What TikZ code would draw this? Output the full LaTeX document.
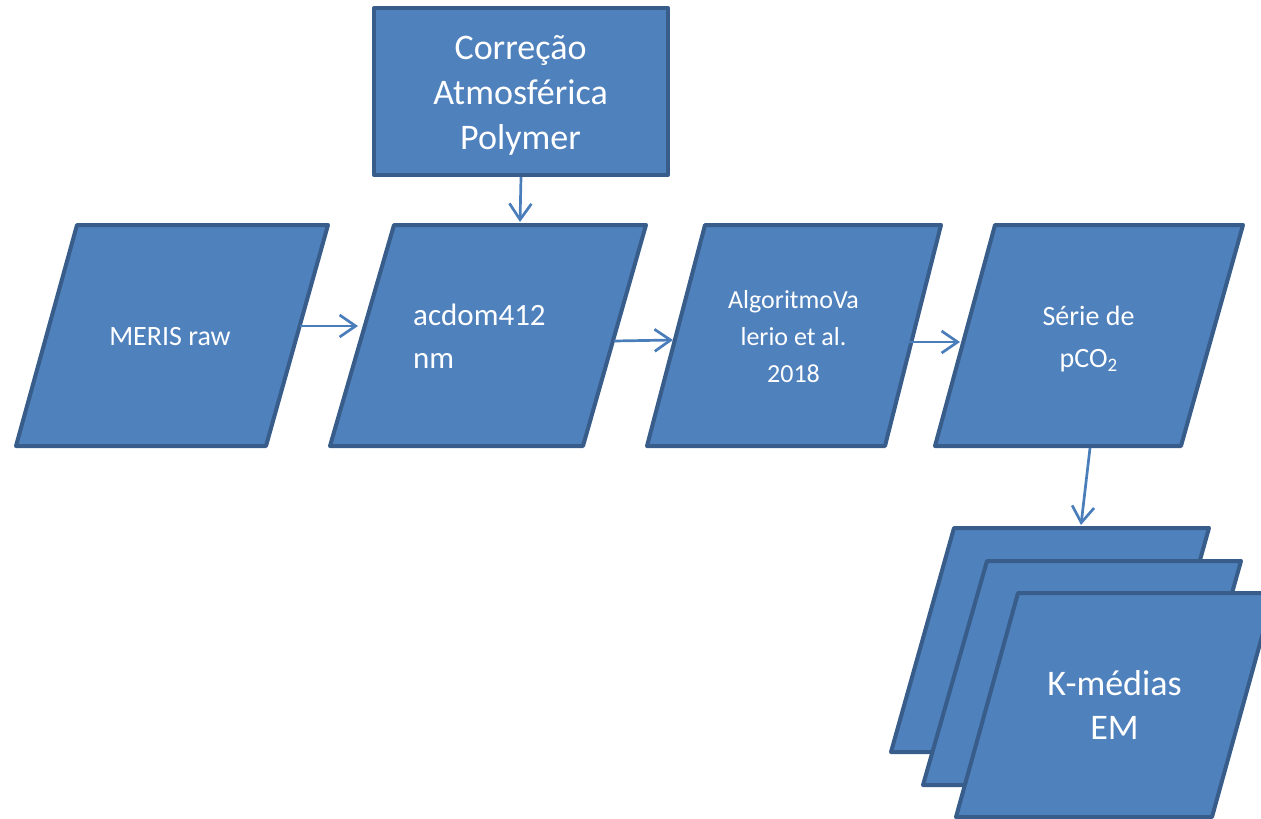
\documentclass[tikz,border=0pt]{standalone}
\usepackage{fontspec}
\setmainfont{Carlito}
\usetikzlibrary{arrows.meta}

\definecolor{boxfill}{HTML}{4F81BD}
\definecolor{boxline}{HTML}{385D8A}
\definecolor{linkline}{HTML}{4A7EBB}

\begin{document}
\begin{tikzpicture}[x=1pt,y=-1pt,
  shapebox/.style={fill=boxfill,draw=boxline,line width=4pt,line join=round},
  lbl/.style={text=white,inner sep=0pt,align=center},
  link/.style={draw=linkline,line width=2.7pt,
    -{Straight Barb[length=16pt,width=22pt,line width=2.7pt]}}]
\useasboundingbox (0,0) rectangle (1261,819);
\clip (0,0) rectangle (1261,819);

% top processing box
\node[shapebox,minimum width=294pt,minimum height=167pt] (polymer) at (521,91.5) {};
% multi-line labels are anchored on the baseline of their last line
\node[lbl,anchor=base,font=\fontsize{36}{45}\selectfont] (polymertxt) at (520.5,149)
  {Correção\\Atmosférica\\Polymer};

% input / output parallelograms of the chain
\draw[shapebox] (77,225) -- (328,225) -- (266,446) -- (16,446) -- cycle;
\draw[shapebox] (394,225) -- (646,225) -- (583,446) -- (330,446) -- cycle;
\draw[shapebox] (705,225) -- (941,225) -- (885,446) -- (647,446) -- cycle;
\draw[shapebox] (995,225) -- (1243,225) -- (1181,446) -- (935,446) -- cycle;

% stacked results
\draw[shapebox] (954,528) -- (1209,528) -- (1146,752) -- (891,752) -- cycle;
\draw[shapebox] (987,561) -- (1241,561) -- (1178,785) -- (923,785) -- cycle;
\draw[shapebox] (1018,593) -- (1274,593) -- (1212,817) -- (956,817) -- cycle;

% labels
\node[lbl,anchor=base,font=\fontsize{28}{34}\selectfont] (meris) at (170,345) {MERIS raw};
\node[lbl,align=left,anchor=base west,font=\fontsize{31}{43}\selectfont] (acdom) at (413,368)
  {acdom412\\nm};
\node[lbl,anchor=base,font=\fontsize{26}{37}\selectfont] (algo) at (793.5,382)
  {AlgoritmoVa\\lerio et al.\\2018};
\node[lbl,anchor=base,font=\fontsize{28}{42}\selectfont] (serie) at (1088.5,367)
  {Série de\\pCO\raisebox{-0.3ex}{\fontsize{19}{20}\selectfont 2}};
\node[lbl,anchor=base,font=\fontsize{36}{44}\selectfont] (kmeans) at (1114.5,739)
  {K-médias\\EM};

% connector end points on the shape edges
\coordinate (acdom-top) at (520,222);
\coordinate (meris-out) at (300,326);
\coordinate (acdom-in) at (358,326);
\coordinate (acdom-out) at (614,341);
\coordinate (algo-in) at (673,340);
\coordinate (algo-out) at (903,342);
\coordinate (serie-in) at (960,342);
\coordinate (serie-out) at (1090,448);
\coordinate (stack-in) at (1081,525);

% connectors
\draw[link] (polymer.south) -- (acdom-top);
\draw[link] (meris-out) -- (acdom-in);
\draw[link] (acdom-out) -- (algo-in);
\draw[link] (algo-out) -- (serie-in);
\draw[link] (serie-out) -- (stack-in);
\end{tikzpicture}
\end{document}
